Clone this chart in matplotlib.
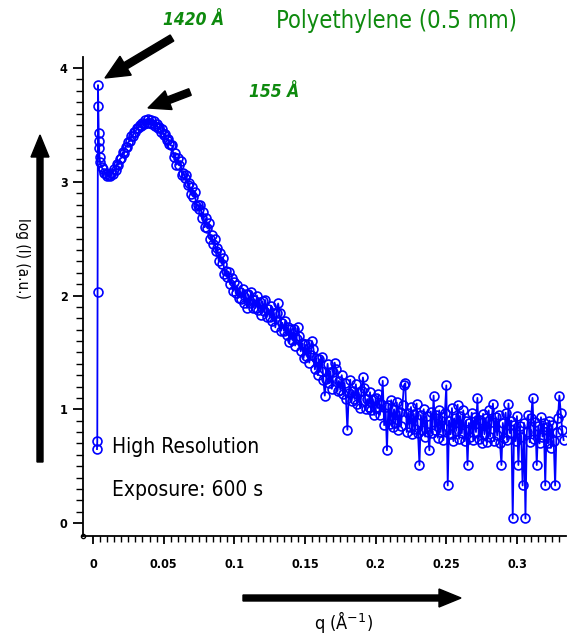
import numpy as np
import matplotlib.pyplot as plt
from matplotlib.patches import FancyArrow
from matplotlib.transforms import IdentityTransform

# beam-stop edge points
q_start = [0.0028, 0.0030, 0.0032, 0.0035, 0.0037, 0.0039, 0.0041, 0.0043, 0.0046, 0.0050]
i_start = [0.65, 0.72, 2.03, 3.85, 3.67, 3.43, 3.36, 3.30, 3.22, 3.17]

# main curve, q in 1/1000 Å^-1
q_milli = list(range(6, 334))
i_main = [
    # 0.006 - 0.055
    3.13, 3.11, 3.08, 3.07, 3.05, 3.06, 3.05, 3.08, 3.07, 3.11,
    3.10, 3.16, 3.15, 3.20, 3.21, 3.26, 3.25, 3.31, 3.31, 3.35,
    3.36, 3.40, 3.40, 3.44, 3.44, 3.47, 3.47, 3.50, 3.49, 3.52,
    3.51, 3.54, 3.52, 3.55, 3.52, 3.54, 3.51, 3.53, 3.49, 3.51,
    3.47, 3.48, 3.44, 3.46, 3.41, 3.42, 3.37, 3.38, 3.33, 3.32,
    # 0.056 - 0.105
    3.32, 3.22, 3.25, 3.15, 3.21, 3.15, 3.18, 3.06, 3.08, 3.03,
    3.06, 2.97, 2.99, 2.89, 2.95, 2.87, 2.91, 2.79, 2.80, 2.76,
    2.80, 2.68, 2.73, 2.60, 2.68, 2.59, 2.64, 2.50, 2.53, 2.45,
    2.50, 2.39, 2.42, 2.30, 2.37, 2.28, 2.33, 2.19, 2.22, 2.16,
    2.21, 2.10, 2.15, 2.04, 2.12, 2.02, 2.09, 1.98, 2.03, 1.97,
    # 0.106 - 0.155
    2.06, 1.93, 2.01, 1.89, 2.01, 1.93, 2.03, 1.89, 1.96, 1.89,
    2.00, 1.87, 1.94, 1.83, 1.95, 1.86, 1.96, 1.81, 1.88, 1.81,
    1.91, 1.78, 1.85, 1.72, 1.85, 1.93, 1.85, 1.69, 1.76, 1.69,
    1.78, 1.65, 1.72, 1.59, 1.71, 1.61, 1.71, 1.56, 1.62, 1.72,
    1.64, 1.51, 1.58, 1.45, 1.57, 1.47, 1.57, 1.41, 1.48, 1.60,
    # 0.156 - 0.205
    1.53, 1.35, 1.45, 1.30, 1.44, 1.34, 1.46, 1.26, 1.12, 1.27,
    1.40, 1.23, 1.33, 1.18, 1.33, 1.41, 1.35, 1.16, 1.25, 1.17,
    1.30, 1.13, 1.23, 1.09, 0.82, 1.14, 1.26, 1.07, 1.16, 1.09,
    1.22, 1.05, 1.15, 1.01, 1.16, 1.28, 1.19, 1.00, 1.09, 1.02,
    1.15, 0.99, 1.09, 0.95, 1.10, 1.01, 1.13, 0.95, 1.05, 1.25,
    # 0.206 - 0.255
    0.86, 1.02, 0.64, 1.04, 0.87, 1.08, 0.84, 1.00, 0.88, 1.06,
    0.82, 0.98, 0.85, 1.04, 1.21, 1.23, 0.80, 0.97, 0.84, 1.02,
    0.78, 0.96, 0.83, 1.05, 0.79, 0.51, 0.95, 0.82, 1.00, 0.76,
    0.94, 0.80, 0.64, 0.98, 0.79, 1.12, 0.82, 0.95, 0.75, 0.99,
    0.80, 0.93, 0.73, 0.97, 1.21, 0.33, 0.90, 0.78, 1.01, 0.72,
    # 0.256 - 0.305
    0.92, 0.81, 1.04, 0.74, 0.94, 0.79, 0.99, 0.72, 0.90, 0.51,
    0.88, 0.76, 0.97, 0.73, 0.93, 0.80, 1.10, 0.74, 0.91, 0.70,
    0.96, 0.78, 0.92, 0.71, 0.99, 0.76, 0.89, 1.05, 0.72, 0.93,
    0.77, 0.95, 0.70, 0.51, 0.88, 0.75, 0.97, 0.73, 1.05, 0.79,
    0.90, 0.04, 0.86, 0.72, 0.94, 0.51, 0.85, 0.76, 0.33, 0.88,
    # 0.306 - 0.333
    0.04, 0.80, 0.95, 0.71, 0.92, 1.10, 0.74, 0.89, 0.51, 0.85,
    0.70, 0.93, 0.76, 0.88, 0.33, 0.84, 0.70, 0.90, 0.66, 0.86,
    0.72, 0.33, 0.80, 0.92, 1.12, 0.97, 0.82, 0.73,
]

q = q_start + [m / 1000 for m in q_milli]
intensity = i_start + i_main

x_ticks = [0, 0.05, 0.1, 0.15, 0.2, 0.25, 0.3]
x_labels = ["0", "0.05", "0.1", "0.15", "0.2", "0.25", "0.3"]
y_ticks = [0, 1, 2, 3, 4]
y_labels = ["0", "1", "2", "3", "4"]

W, H = 569, 637
green = "#0e8a0e"
font = dict(family="DejaVu Sans", fontstretch="condensed")

fig = plt.figure(figsize=(W / 100, H / 100), dpi=100)
ax = fig.add_axes([83 / W, 1 - 536 / H, (566 - 83) / W, (536 - 57) / H])

ax.plot(q, intensity, color="#0000ff", lw=1.3, marker="o", ms=6.4,
        mfc="none", mec="#0000ff", mew=1.2)

ax.set_xlim(-0.0071, 0.3347)
ax.set_ylim(-0.114, 4.097)
ax.spines["top"].set_visible(False)
ax.spines["right"].set_visible(False)
ax.spines["left"].set_linewidth(1.3)
ax.spines["bottom"].set_linewidth(1.3)

ax.set_xticks(x_ticks)
ax.set_xticklabels(x_labels)
ax.set_yticks(y_ticks)
ax.set_yticklabels(y_labels)
ax.set_xticks(np.arange(0, 0.335, 0.005), minor=True)
ax.set_yticks(np.arange(0, 4.05, 0.1), minor=True)
ax.tick_params(axis="x", which="major", length=6, width=1.3, pad=10)
ax.tick_params(axis="x", which="minor", length=4, width=1.0)
ax.tick_params(axis="y", which="major", length=7, width=1.3, pad=4)
ax.tick_params(axis="y", which="minor", length=5, width=1.0)
for lab in ax.get_xticklabels() + ax.get_yticklabels():
    lab.set_family("DejaVu Sans")
    lab.set_fontstretch("condensed")
    lab.set_fontweight("bold")
    lab.set_fontsize(9)

# small circle at the axis corner
ax.plot([-0.0071], [-0.114], marker="o", ms=3, mfc="none", mec="black",
        mew=1.0, clip_on=False)

def px(x, y):
    return x / W, 1 - y / H

fig.text(*px(396, 21), "Polyethylene (0.5 mm)", color=green, fontsize=17,
         ha="center", va="center", **font)
fig.text(*px(194, 20), "1420 Å", color=green, fontsize=12.5, fontweight="bold",
         style="italic", ha="center", va="center", **font)
fig.text(*px(274, 92), "155 Å", color=green, fontsize=12.5, fontweight="bold",
         style="italic", ha="center", va="center", **font)
fig.text(*px(112, 447), "High Resolution", color="black", fontsize=15,
         ha="left", va="center", **font)
fig.text(*px(112, 490), "Exposure: 600 s", color="black", fontsize=15,
         ha="left", va="center", **font)
fig.text(*px(22, 258), "log (I) (a.u.)", color="black", fontsize=11,
         rotation=-90, ha="center", va="center", **font)
fig.text(*px(343, 622), "q (Å$^{-1}$)", color="black", fontsize=13,
         ha="center", va="center", **font)

# arrows drawn in pixel space
def arrow(x0, y0, x1, y1, width, head_w, head_l):
    a = FancyArrow(x0, H - y0, x1 - x0, -(y1 - y0), width=width,
                   head_width=head_w, head_length=head_l,
                   length_includes_head=True, color="black",
                   transform=IdentityTransform())
    fig.add_artist(a)

arrow(40, 462, 40, 135, 6, 18, 22)
arrow(243, 598, 461, 598, 6, 18, 22)
arrow(172, 38, 105, 78, 7, 22, 24)
arrow(190, 92, 148, 108, 7, 20, 22)

fig.savefig("out.png", dpi=100)
